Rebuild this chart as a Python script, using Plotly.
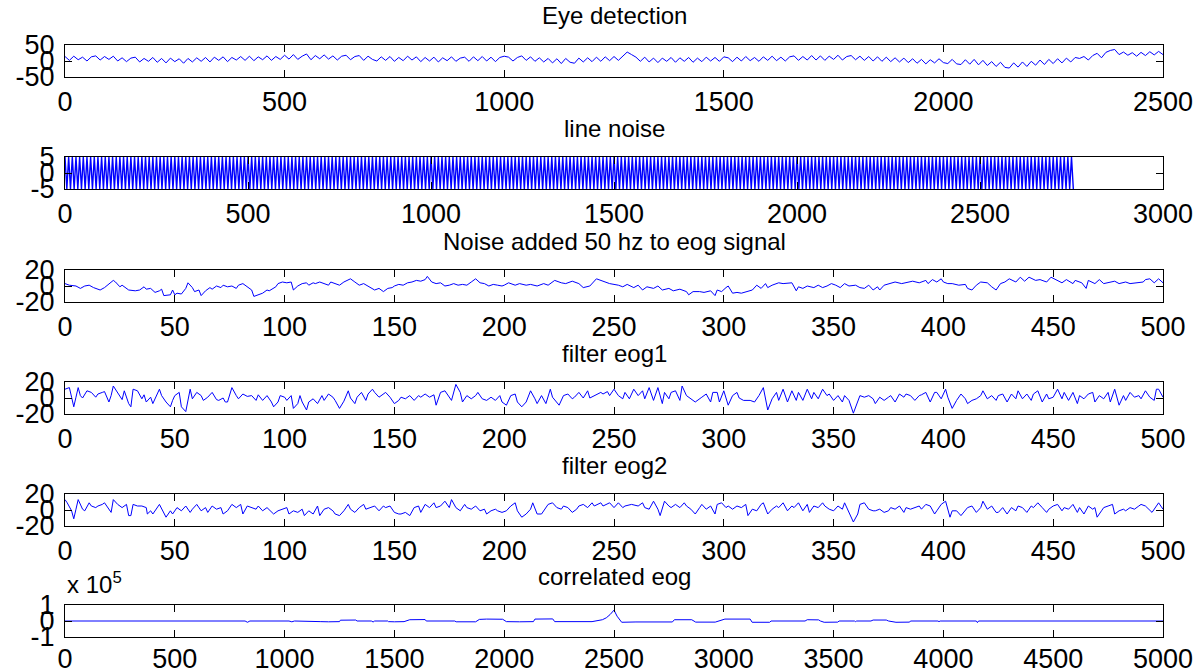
import plotly.graph_objects as go

# ---------------- data ----------------
eye_step = 10
eye_y = [14, 2, 15, 4, 12, 0, 13, 16, 3, 14, 5,
         15, 0, 10, -2, 9, 12, -3, 8, -1, 11,
         -4, 8, -6, 9, -2, 7, -7, 8, -3, 10,
         -1, 11, -3, 12, 2, 13, -2, 11, 3, 14,
         2, 15, 1, 13, 4, 16, 2, 14, 5, 18,
         6, 20, 5, 15, 22, 4, 17, 7, 19, 6,
         16, 3, 15, 18, 4, 14, 17, 2, 15, 5,
         0, 13, 2, 14, -1, 11, 1, 15, 3, 13,
         -2, 11, 0, 12, -3, 10, 1, 13, -1, 9,
         12, -1, 13, 1, 14, 0, 12, -2, 11, 15,
         12, 0, 11, 16, 2, 13, -1, 10, -3, 8,
         -6, 7, -8, 8, -4, -7, 9, -3, 10, -2,
         12, -1, 13, 1, 14, 2, 15, 28, 20, 12,
         -1, 12, -3, 9, -5, 9, -1, 11, -4, 10,
         -1, 11, -4, 9, -2, 12, 0, 11, -1, 13,
         10, -2, 12, 0, 14, 1, 11, -1, 13, 2,
         15, 1, 12, 0, 13, 16, 2, 14, 3, 17,
         3, 16, 2, 15, 5, 18, 3, 14, 17, 4,
         15, 2, 14, 0, 13, -1, 12, -2, 10, -3,
         9, -5, 7, -7, 5, -9, 4, -6, 7, -5,
         -8, 5, -9, -11, 4, -10, 5, -12, 2, -14,
         -2, -17, -4, -20, -22, -6, -19, -3, -17, -1,
         -13, 3, -11, 5, -8, 7, -6, 9, -3, 11,
         8, 14, 3, 17, 24, 10, 27, 33, 36, 20,
         28, 18, 26, 15, 27, 17, 29, 19, 30, 20]

line_noise_step = 5
line_noise_y = [
    5, -5, 5, -5, 5, -5, 5, -5, 5, -5, 5, -5, 5, -5, 5, -5, 5, -5, 5, -5, 5, -5, 5, -5,
    5, -5, 5, -5, 5, -5, 5, -5, 5, -5, 5, -5, 5, -5, 5, -5, 5, -5, 5, -5, 5, -5, 5, -5,
    5, -5, 5, -5, 5, -5, 5, -5, 5, -5, 5, -5, 5, -5, 5, -5, 5, -5, 5, -5, 5, -5, 5, -5,
    5, -5, 5, -5, 5, -5, 5, -5, 5, -5, 5, -5, 5, -5, 5, -5, 5, -5, 5, -5, 5, -5, 5, -5,
    5, -5, 5, -5, 5, -5, 5, -5, 5, -5, 5, -5, 5, -5, 5, -5, 5, -5, 5, -5, 5, -5, 5, -5,
    5, -5, 5, -5, 5, -5, 5, -5, 5, -5, 5, -5, 5, -5, 5, -5, 5, -5, 5, -5, 5, -5, 5, -5,
    5, -5, 5, -5, 5, -5, 5, -5, 5, -5, 5, -5, 5, -5, 5, -5, 5, -5, 5, -5, 5, -5, 5, -5,
    5, -5, 5, -5, 5, -5, 5, -5, 5, -5, 5, -5, 5, -5, 5, -5, 5, -5, 5, -5, 5, -5, 5, -5,
    5, -5, 5, -5, 5, -5, 5, -5, 5, -5, 5, -5, 5, -5, 5, -5, 5, -5, 5, -5, 5, -5, 5, -5,
    5, -5, 5, -5, 5, -5, 5, -5, 5, -5, 5, -5, 5, -5, 5, -5, 5, -5, 5, -5, 5, -5, 5, -5,
    5, -5, 5, -5, 5, -5, 5, -5, 5, -5, 5, -5, 5, -5, 5, -5, 5, -5, 5, -5, 5, -5, 5, -5,
    5, -5, 5, -5, 5, -5, 5, -5, 5, -5, 5, -5, 5, -5, 5, -5, 5, -5, 5, -5, 5, -5, 5, -5,
    5, -5, 5, -5, 5, -5, 5, -5, 5, -5, 5, -5, 5, -5, 5, -5, 5, -5, 5, -5, 5, -5, 5, -5,
    5, -5, 5, -5, 5, -5, 5, -5, 5, -5, 5, -5, 5, -5, 5, -5, 5, -5, 5, -5, 5, -5, 5, -5,
    5, -5, 5, -5, 5, -5, 5, -5, 5, -5, 5, -5, 5, -5, 5, -5, 5, -5, 5, -5, 5, -5, 5, -5,
    5, -5, 5, -5, 5, -5, 5, -5, 5, -5, 5, -5, 5, -5, 5, -5, 5, -5, 5, -5, 5, -5, 5, -5,
    5, -5, 5, -5, 5, -5, 5, -5, 5, -5, 5, -5, 5, -5, 5, -5, 5, -5, 5, -5, 5, -5, 5, -5,
    5, -5, 5, -5, 5, -5, 5, -5, 5, -5, 5, -5, 5, -5, 5, -5, 5, -5, 5, -5, 5, -5, 5, -5,
    5, -5, 5, -5, 5, -5, 5, -5, 5, -5, 5, -5, 5, -5, 5, -5, 5, -5, 5, -5, 5, -5, 5, -5,
    5, -5, 5, -5, 5, -5, 5, -5, 5, -5, 5, -5, 5, -5, 5, -5, 5, -5, 5, -5, 5, -5, 5, -5,
    5, -5, 5, -5, 5, -5, 5, -5, 5, -5, 5, -5, 5, -5, 5, -5, 5, -5, 5, -5, 5, -5, 5, -5,
    5, -5, 5, -5, 5, -5, 5, -5, 5, -5, 5, -5, 5, -5, 5, -5, 5, -5, 5, -5, 5, -5, 5, -5,
    5, -5, 5, -5, 5, -5, 5, -5, 5, -5, 5, -5, 5, -5, 5, -5, 5, -5, 5, -5, 5, -5, 5, -5]

noise_pts = [(0,3),(2,1),(5,0),(7,-3),(9,0),(11,1),(13,-2),(16,-5),(18,-2),(20,3),
    (22,7),(23,5),(25,-1),(26,1),(28,-3),(29,-5),(32,-6),(34,-5),(36,-1),(37,-4),
    (39,-3),(41,-8),(43,-6),(44,-4),(45,-12),(48,-11),(49,-5),(50,-11),(51,-9),(53,-10),
    (55,-3),(56,4),(58,-2),(59,-7),(61,-5),(62,-12),(64,-6),(66,-2),(67,-4),(69,0),
    (71,-2),(72,1),(74,-1),(76,0),(78,-3),(79,1),(81,3),(83,-1),(85,-5),(86,-13),
    (88,-11),(90,-9),(92,-5),(93,-6),(96,-1),(97,3),(99,5),(101,4),(103,5),(104,-5),
    (106,0),(108,3),(110,4),(111,1),(113,4),(114,3),(116,5),(118,3),(120,1),(121,5),
    (123,3),(125,1),(127,5),(129,7),(130,9),(132,5),(134,1),(136,3),(138,0),(140,-3),
    (141,-5),(143,-3),(145,-7),(147,-3),(149,-2),(150,0),(152,2),(154,1),(156,4),(158,5),
    (160,7),(162,6),(164,8),(165,12),(167,5),(169,3),(171,4),(173,0),(175,1),(177,3),
    (179,1),(181,2),(183,1),(185,5),(187,9),(189,4),(191,3),(193,0),(195,2),(197,1),
    (199,0),(200,1),(202,4),(205,1),(207,3),(210,1),(212,2),(215,0),(218,3),(220,1),
    (223,7),(226,4),(228,3),(231,6),(234,3),(236,-2),(239,0),(242,9),(244,7),(248,3),
    (252,1),(254,-1),(256,2),(259,-2),(261,1),(263,-5),(265,-1),(268,-3),(270,0),(272,-5),
    (275,-3),(277,-6),(280,-4),(283,-7),(284,-11),(286,-7),(289,-7),(291,-8),(294,-6),(296,-12),
    (297,-5),(299,-7),(301,-2),(302,0),(304,-9),(306,-8),(308,-9),(311,-7),(313,-5),(315,1),
    (317,-3),(319,3),(320,-2),(322,1),(325,4),(327,3),(331,4),(333,-6),(334,-1),(336,-3),
    (338,0),(341,-2),(343,1),(345,-2),(347,0),(349,3),(351,1),(353,-2),(355,3),(357,0),
    (360,1),(362,-2),(364,-3),(366,1),(368,-5),(370,-1),(371,-5),(373,1),(376,3),(378,5),
    (381,3),(384,5),(386,6),(389,4),(392,7),(393,3),(395,8),(397,5),(399,9),(400,5),
    (402,3),(404,3),(407,1),(410,2),(411,-3),(413,-5),(415,1),(417,5),(420,4),(422,-1),
    (424,-5),(426,3),(428,5),(430,9),(433,5),(435,11),(437,6),(439,11),(442,7),(444,8),
    (447,5),(449,11),(452,7),(454,4),(456,8),(459,3),(460,7),(463,4),(465,-3),(466,7),
    (469,3),(471,8),(473,3),(475,4),(478,6),(480,3),(483,5),(485,3),(488,4),(491,5),
    (492,8),(494,9),(496,4),(498,9),(500,4)]

filt1_pts = [(0,11),(2,13),(3,1),(4,-11),(5,1),(6,13),(7,3),(8,0),(10,9),(12,7),
    (14,1),(15,5),(17,7),(18,8),(20,-5),(21,3),(22,15),(24,7),(26,-2),(27,9),
    (29,-7),(30,-11),(31,11),(33,9),(35,-1),(36,4),(37,-5),(39,1),(40,-7),(43,11),
    (44,3),(46,-5),(48,-11),(49,-3),(50,3),(52,7),(53,-11),(55,-17),(56,-1),(57,11),
    (58,-1),(60,7),(62,3),(63,-3),(65,1),(67,7),(69,-2),(70,-3),(72,0),(73,-5),
    (74,-5),(76,13),(78,3),(79,-1),(81,5),(83,2),(85,3),(87,-3),(88,4),(90,-3),
    (92,3),(94,-5),(95,-11),(97,-5),(98,3),(100,1),(101,-3),(103,3),(104,-13),(106,-7),
    (107,3),(108,-5),(110,-15),(111,-5),(113,-1),(115,-7),(117,3),(118,-3),(120,5),(122,1),
    (123,-3),(125,-13),(127,-4),(129,9),(130,0),(132,-7),(133,1),(135,7),(137,-3),(138,5),
    (140,11),(141,7),(143,1),(145,5),(146,7),(148,1),(150,-7),(152,-3),(153,1),(155,-1),
    (157,3),(159,-3),(161,3),(162,1),(164,5),(166,1),(168,4),(169,-9),(171,7),(173,9),
    (175,1),(176,-3),(178,17),(180,7),(181,-5),(183,3),(185,-1),(187,3),(188,7),(190,-1),
    (192,-3),(194,1),(196,-3),(198,3),(199,-5),(201,-9),(203,3),(205,5),(206,-5),(208,-11),
    (210,-5),(212,9),(214,-1),(215,-7),(217,3),(219,-7),(221,11),(222,1),(225,-9),(227,3),
    (229,5),(231,-1),(232,1),(234,7),(236,0),(238,9),(239,0),(241,3),(244,7),(245,5),
    (247,8),(248,3),(250,11),(252,3),(254,-1),(255,7),(257,-1),(259,11),(261,3),(263,9),
    (264,-1),(266,13),(268,-3),(270,13),(272,-7),(273,7),(275,-1),(276,7),(278,9),(280,-3),
    (281,15),(283,3),(285,-1),(287,-5),(290,1),(292,5),(294,-5),(295,7),(297,7),(298,-5),
    (300,9),(302,-9),(304,3),(306,7),(307,0),(309,-3),(312,-3),(314,-5),(316,3),(318,13),
    (320,-15),(322,-1),(324,7),(325,-3),(327,11),(329,-5),(331,9),(333,-3),(334,7),(336,-3),
    (338,11),(340,-1),(341,7),(343,-1),(345,11),(347,3),(348,5),(350,-3),(352,3),(354,-5),
    (355,3),(357,-3),(359,-19),(361,-5),(362,3),(364,1),(366,3),(368,-1),(369,-7),(371,1),
    (373,-3),(375,1),(376,3),(378,-5),(380,5),(382,1),(383,5),(385,3),(387,-3),(389,3),
    (390,4),(392,7),(394,-5),(396,7),(397,7),(399,-1),(401,11),(402,1),(404,-13),(406,-3),
    (408,5),(410,-1),(411,-7),(413,-3),(415,-1),(417,3),(418,9),(420,-1),(422,3),(424,-3),
    (425,3),(427,5),(429,-5),(431,5),(433,-1),(434,9),(436,-1),(438,5),(440,-3),(441,5),
    (443,9),(445,-5),(447,5),(448,-1),(450,1),(452,11),(454,-1),(455,7),(457,-3),(459,7),
    (461,-7),(462,3),(464,-1),(466,5),(468,7),(469,-5),(471,3),(473,-1),(475,7),(476,-5),
    (478,11),(480,-9),(482,3),(483,-3),(485,7),(487,1),(489,3),(490,-1),(492,9),(494,1),
    (496,-3),(497,11),(498,11),(500,1)]

filt2_pts = [(0,13),(1,9),(3,-1),(4,-11),(5,1),(6,13),(8,1),(9,-1),(11,9),(12,5),
    (14,3),(15,5),(17,7),(18,9),(21,-3),(22,13),(24,7),(26,3),(28,7),(29,-7),
    (30,-7),(31,7),(33,5),(35,5),(37,3),(37.5,-5),(39,-1),(40,-5),(43,7),(44,1),
    (46,-9),(48,-1),(49,-5),(51,3),(53,-1),(55,5),(57,-3),(58,1),(60,7),(62,-1),
    (64,3),(65,-3),(67,5),(69,1),(71,3),(72,-5),(74,-1),(76,7),(78,3),(80,7),
    (81,-5),(83,5),(85,3),(87,1),(88,5),(90,-1),(92,3),(94,-3),(95,-5),(97,-1),
    (99,1),(101,3),(102,-5),(104,-1),(106,-3),(108,1),(109,-7),(111,-1),(113,-5),(115,5),
    (116,-7),(118,1),(120,3),(122,-1),(123,-5),(125,-7),(127,-1),(129,7),(130,1),(132,-3),
    (134,3),(136,7),(137,1),(139,3),(141,5),(143,-1),(145,5),(146,3),(148,5),(150,-3),
    (152,-5),(153,-5),(155,-3),(157,-7),(159,3),(161,5),(162,-3),(164,7),(166,3),(168,9),
    (169,3),(171,5),(173,11),(175,3),(176,13),(178,3),(180,-1),(182,7),(183,3),(185,1),
    (187,5),(189,-1),(191,1),(192,-5),(194,-1),(196,1),(197,-1),(199,-3),(201,-1),(203,5),
    (205,9),(206,-1),(208,-9),(210,-5),(212,1),(213,9),(215,-5),(217,-5),(219,3),(220,7),
    (222,9),(224,3),(226,1),(227,5),(229,3),(231,-3),(233,1),(234,5),(236,7),(238,3),
    (240,9),(241,5),(244,9),(245,5),(248,9),(250,3),(252,9),(254,3),(255,5),(258,7),
    (261,5),(263,9),(264,3),(266,1),(268,11),(270,1),(271,-7),(273,11),(275,5),(276,3),
    (278,7),(280,3),(282,9),(283,5),(285,1),(287,-5),(289,3),(290,7),(292,1),(294,5),
    (296,-5),(297,7),(299,9),(301,3),(302,5),(304,1),(306,5),(308,3),(310,7),(311,-7),
    (313,1),(315,-1),(317,7),(318,9),(320,-5),(322,1),(324,5),(325,3),(327,9),(329,-1),
    (331,5),(332,3),(334,9),(336,-1),(338,7),(339,-3),(341,5),(343,3),(345,9),(346,5),
    (348,1),(350,-1),(352,5),(354,1),(355,9),(357,-3),(359,-15),(361,-5),(362,7),(364,9),
    (366,1),(368,-1),(369,-1),(371,1),(373,-3),(375,-1),(376,3),(378,1),(380,5),(382,-3),
    (383,3),(385,1),(387,3),(389,5),(390,1),(392,7),(394,5),(396,-5),(397,-1),(399,7),
    (401,11),(403,-9),(404,-1),(406,-1),(408,-7),(410,-1),(411,3),(413,5),(415,-3),(417,3),
    (418,11),(420,1),(422,5),(424,-3),(425,-3),(427,3),(429,-5),(431,3),(433,-1),(434,5),
    (436,3),(438,-3),(440,5),(441,3),(443,9),(445,3),(447,-3),(448,1),(450,5),(452,7),
    (454,-1),(455,3),(457,1),(459,7),(461,-3),(462,3),(464,-5),(466,5),(468,1),(469,3),
    (470,-9),(472,-1),(473,3),(475,5),(477,7),(478,-5),(480,-1),(482,1),(483,-1),(485,3),
    (487,1),(489,5),(490,7),(492,5),(494,-1),(495,-3),(498,9),(500,1)]

corr_pts = [(0,0),(820,0),(831,-8000),(842,0),(1020,0),(1033,-5000),(1045,0),
    (1160,0),(1165,-4000),(1200,-5000),(1250,-4000),(1254,5000),(1280,6000),(1300,5000),
    (1324,6000),(1330,0),(1395,0),(1403,-6000),(1410,0),(1470,0),(1473,-4000),
    (1500,-5000),(1544,-4000),(1570,8000),(1600,10000),(1640,9000),(1645,0),(1775,0),
    (1781,-5000),(1820,-4000),(1870,-5000),(1887,10000),(1920,12000),(1993,11000),
    (2010,-4000),(2070,-5000),(2133,-4000),(2140,12000),(2180,14000),(2221,13000),
    (2230,-4000),(2300,-5000),(2400,-4000),(2447,8000),(2465,20000),(2482,40000),
    (2500,68000),(2514,30000),(2527,5000),(2535,-8000),(2600,-6000),(2700,-7000),
    (2766,-6000),(2775,8000),(2820,7000),(2854,8000),(2872,-7000),(2920,-6000),
    (2961,-7000),(3005,12000),(3060,11000),(3120,12000),(3129,-8000),(3170,-7000),
    (3209,-8000),(3215,0),(3370,0),(3380,8000),(3432,7000),(3440,0),(3457,-8000),
    (3519,-7000),(3525,0),(3595,0),(3600,-4000),(3605,0),(3670,0),(3680,6000),
    (3700,5000),(3740,6000),(3750,0),(3784,-8000),(3846,-7000),(3850,0),(3975,0),
    (3980,-4000),(3985,0),(4150,0),(4155,-10000),(4160,0),(5000,0)]

titles = ["Eye detection", "line noise", "Noise added 50 hz to eog signal",
          "filter eog1", "filter eog2", "correlated eog"]
x_ranges = [[0, 2500], [0, 3000], [0, 500], [0, 500], [0, 500], [0, 5000]]
x_ticks = [list(range(0, 2501, 500)), list(range(0, 3001, 500)),
           list(range(0, 501, 50)), list(range(0, 501, 50)),
           list(range(0, 501, 50)), list(range(0, 5001, 500))]
y_ranges = [[-50, 50], [-5, 5], [-20, 20], [-20, 20], [-20, 20], [-100000, 100000]]
y_tickvals = [[-50, 0, 50], [-5, 0, 5], [-20, 0, 20], [-20, 0, 20], [-20, 0, 20],
              [-100000, 0, 100000]]
y_ticktext = [["-50", "0", "50"], ["-5", "0", "5"], ["-20", "0", "20"],
              ["-20", "0", "20"], ["-20", "0", "20"], ["-1", "0", "1"]]

# ---------------- build series ----------------
eye_x = [i * eye_step for i in range(len(eye_y))]
ln_x = [i * line_noise_step for i in range(len(line_noise_y))]
series = [
    (eye_x, eye_y),
    (ln_x, line_noise_y),
    tuple(list(v) for v in zip(*noise_pts)),
    tuple(list(v) for v in zip(*filt1_pts)),
    tuple(list(v) for v in zip(*filt2_pts)),
    tuple(list(v) for v in zip(*corr_pts)),
]

W, H = 1203, 671
left_px, right_px = 65, 1163
tops = [45, 157, 270, 382, 494, 605]
box_h = 32
FONT = "Liberation Sans, Arial, Helvetica, sans-serif"
line_widths = [1, 1.4, 1, 1, 1, 1]
x_standoff = [1, 1, 1, 1, 1, -2]

fig = go.Figure()
layout = dict(
    width=W, height=H, margin=dict(l=0, r=0, t=0, b=0, autoexpand=False),
    paper_bgcolor="white", plot_bgcolor="white", showlegend=False,
    font=dict(family=FONT, color="black"),
)
annotations = []
for i in range(6):
    n = i + 1
    xs, ys = series[i]
    fig.add_trace(go.Scatter(x=xs, y=ys, mode="lines",
                             line=dict(color="#0000ff", width=line_widths[i]),
                             xaxis=f"x{n}", yaxis=f"y{n}", hoverinfo="skip"))
    top = tops[i]
    ax_common = dict(showline=True, linecolor="black", linewidth=1, mirror="ticks",
                     ticks="inside", ticklen=7, tickwidth=1, tickcolor="black",
                     showgrid=False, zeroline=False, automargin=False,
                     tickfont=dict(family=FONT, size=27, color="black"))
    layout[f"xaxis{n}"] = dict(domain=[left_px / W, right_px / W], range=x_ranges[i],
                               tickmode="array", tickvals=x_ticks[i],
                               anchor=f"y{n}", ticklabelstandoff=x_standoff[i],
                               **ax_common)
    layout[f"yaxis{n}"] = dict(domain=[1 - (top + box_h) / H, 1 - top / H],
                               range=y_ranges[i], tickmode="array",
                               tickvals=y_tickvals[i], ticktext=y_ticktext[i],
                               anchor=f"x{n}", ticklabelstandoff=4, **ax_common)
    annotations.append(dict(text=titles[i], x=(left_px + right_px) / 2 / W,
                            y=1 - (top - 29) / H, xref="paper", yref="paper",
                            xanchor="center", yanchor="middle", showarrow=False,
                            font=dict(family=FONT, size=24, color="black")))

annotations.append(dict(text="x 10<sup>5</sup>", x=left_px / W, y=1 - (tops[5] - 22) / H,
                        xref="paper", yref="paper", xanchor="left", yanchor="middle",
                        showarrow=False, font=dict(family=FONT, size=24, color="black")))
layout["annotations"] = annotations
fig.update_layout(**layout)
fig.write_html("out.html", config={"displayModeBar": False},
               post_script="document.body.style.margin='0px';"
                           "document.body.style.padding='0px';"
                           "document.body.style.overflow='hidden';")
